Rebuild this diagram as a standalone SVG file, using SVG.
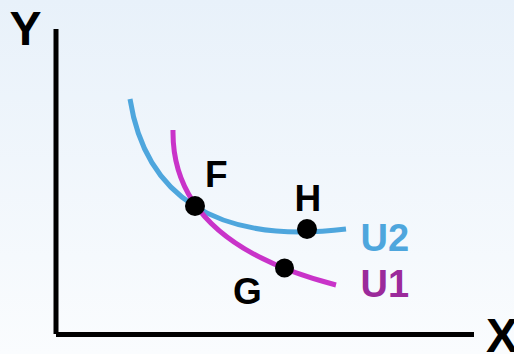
<svg xmlns="http://www.w3.org/2000/svg" width="514" height="354" viewBox="0 0 514 354">
  <defs>
    <linearGradient id="bg" x1="0" y1="0" x2="0" y2="1">
      <stop offset="0" stop-color="#e8f1fa"/>
      <stop offset="1" stop-color="#fafcfe"/>
    </linearGradient>
    <style>
      .lbl { font-family: "Liberation Sans", Arial, sans-serif; font-weight: bold; }
      .axis { stroke: #000; stroke-width: 5; fill: none; }
      .curve { fill: none; stroke-width: 5; stroke-linecap: butt; }
      .dot { fill: #000; }
    </style>
  </defs>
  <rect width="514" height="354" fill="url(#bg)"/>
  <g id="axes">
    <line class="axis" x1="56" y1="29" x2="56" y2="334"/>
    <line class="axis" x1="56" y1="334.5" x2="474" y2="334.5"/>
    <text class="lbl" x="25.5" y="45" font-size="48" text-anchor="middle">Y</text>
    <text class="lbl" x="502" y="352" font-size="48" text-anchor="middle">X</text>
  </g>
  <g id="connectors">
    <path id="U2-curve" class="curve" stroke="#4ea6dd" d="M130,99 C145,195 215,245 346,229"/>
    <path id="U1-curve" class="curve" stroke="#c933c9" d="M173,130 C172,200 220,255 336,285"/>
  </g>
  <g id="F">
    <circle class="dot" cx="195" cy="206" r="10"/>
    <text class="lbl" x="205" y="187" font-size="37">F</text>
  </g>
  <g id="H">
    <circle class="dot" cx="307" cy="229" r="10"/>
    <text class="lbl" x="294.5" y="211" font-size="37">H</text>
  </g>
  <g id="G">
    <circle class="dot" cx="284.5" cy="268" r="9.5"/>
    <text class="lbl" x="233" y="304" font-size="37">G</text>
  </g>
  <g id="U2">
    <text class="lbl" x="360.5" y="251" font-size="38" fill="#4ea6dd">U2</text>
  </g>
  <g id="U1">
    <text class="lbl" x="360.5" y="297" font-size="38" fill="#9b2a9b">U1</text>
  </g>
</svg>
